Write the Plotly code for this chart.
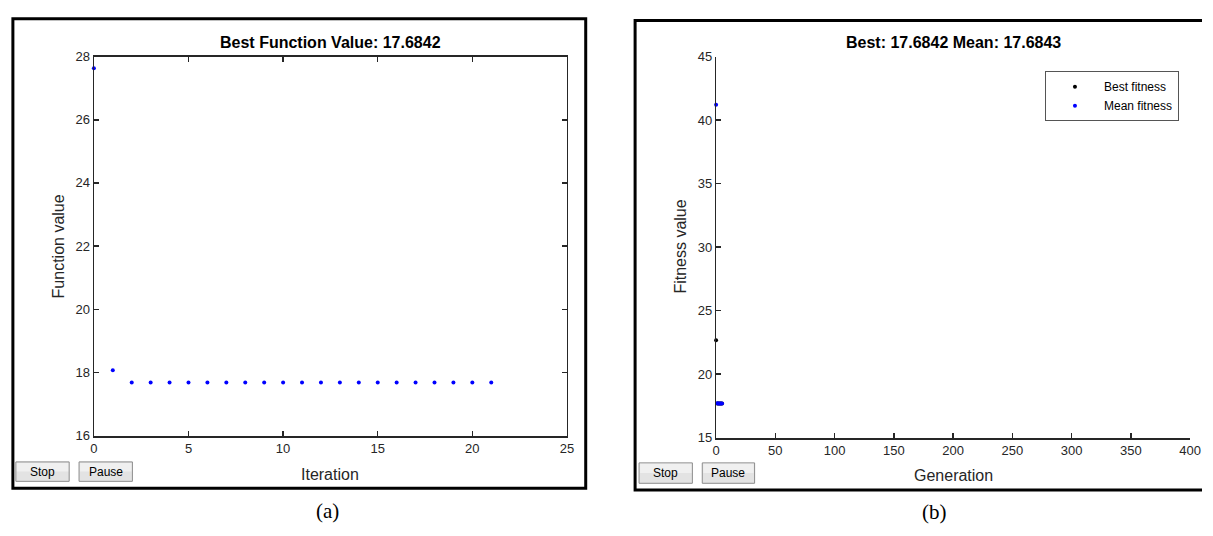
import plotly.graph_objects as go

W, H = 1213, 536

# ---------------- data ----------------
iterations = [0, 1, 2, 3, 4, 5, 6, 7, 8, 9, 10, 11, 12, 13, 14, 15, 16, 17, 18, 19, 20, 21]
best_function_values = [27.63, 18.07, 17.6842, 17.6842, 17.6842, 17.6842, 17.6842, 17.6842,
                        17.6842, 17.6842, 17.6842, 17.6842, 17.6842, 17.6842, 17.6842, 17.6842,
                        17.6842, 17.6842, 17.6842, 17.6842, 17.6842, 17.6842]

generations = [0, 1, 2, 3, 4, 5]
best_fitness = [22.66, 17.6842, 17.6842, 17.6842, 17.6842, 17.6842]
mean_fitness = [41.2, 17.71, 17.69, 17.686, 17.6845, 17.6843]

left_title = "Best Function Value: 17.6842"
right_title = "Best: 17.6842 Mean: 17.6843"
left_xticks = [0, 5, 10, 15, 20, 25]
left_yticks = [16, 18, 20, 22, 24, 26, 28]
right_xticks = [0, 50, 100, 150, 200, 250, 300, 350, 400]
right_yticks = [15, 20, 25, 30, 35, 40, 45]


def px(x):
    return x / W


def py(y):
    return 1 - y / H


FONT = "Liberation Sans, Arial, Helvetica, sans-serif"
SERIF = "Liberation Serif, Times New Roman, serif"
TXT = "#262626"

fig = go.Figure()

fig.add_trace(go.Scatter(x=iterations, y=best_function_values, mode="markers",
                         marker=dict(color="#0000ff", size=4), showlegend=False,
                         xaxis="x", yaxis="y", cliponaxis=False))
fig.add_trace(go.Scatter(x=generations, y=best_fitness, mode="markers", name="Best fitness",
                         marker=dict(color="black", size=4), xaxis="x2", yaxis="y2", cliponaxis=False))
fig.add_trace(go.Scatter(x=generations, y=mean_fitness, mode="markers", name="Mean fitness",
                         marker=dict(color="#0000ff", size=4), xaxis="x2", yaxis="y2", cliponaxis=False))

common_axis = dict(showgrid=False, zeroline=False, showline=True, linecolor=TXT,
                   ticks="inside", ticklen=5, tickwidth=1.5, tickcolor=TXT,
                   tickfont=dict(family=FONT, size=13, color=TXT))

fig.update_layout(
    width=W, height=H, margin=dict(l=0, r=0, t=0, b=0),
    paper_bgcolor="white", plot_bgcolor="white",
    font=dict(family=FONT, color=TXT),
    xaxis=dict(domain=[px(91), px(570)], range=[0, 25], tickvals=left_xticks,
               mirror="ticks", linewidth=2, anchor="y", **common_axis),
    yaxis=dict(domain=[py(441), py(51)], range=[16, 28], tickvals=left_yticks,
               mirror="ticks", linewidth=1.2, anchor="x", **common_axis),
    xaxis2=dict(domain=[px(721), px(1201)], range=[0, 400], tickvals=right_xticks,
                mirror=False, linewidth=2, anchor="y2", **common_axis),
    yaxis2=dict(domain=[py(443), py(51)], range=[15, 45], tickvals=right_yticks,
                mirror=False, linewidth=1.2, anchor="x2", **common_axis),
    legend=dict(x=px(1054), y=py(66), xanchor="left", yanchor="top",
                bordercolor="#555555", borderwidth=1, bgcolor="white",
                font=dict(family=FONT, size=12, color="black"), itemwidth=48,
                tracegroupgap=0),
)

shapes = []
frame_line = dict(color="black", width=3)
# figure-window frames
shapes.append(dict(type="rect", xref="paper", yref="paper", x0=px(9), x1=px(589),
                   y0=py(495), y1=py(12), line=frame_line, layer="below"))
# right window runs off the right edge: draw top, left and bottom sides only
shapes.append(dict(type="path", xref="paper", yref="paper",
                   path=f"M 1,{py(14)} L {px(639)},{py(14)} L {px(639)},{py(497)} L 1,{py(497)}",
                   line=frame_line, layer="below"))

annotations = []


def label(text, x, y, size, family=FONT, color=TXT, angle=0, yanchor="middle"):
    annotations.append(dict(text=text, x=px(x), y=py(y), xref="paper", yref="paper",
                            xanchor="center", yanchor=yanchor, textangle=angle,
                            showarrow=False, font=dict(family=family, size=size, color=color)))


# buttons
buttons = [("Stop", 12, 66, 468, 488), ("Pause", 76, 130, 468, 488),
           ("Stop", 643, 697, 469, 490), ("Pause", 707, 760, 469, 490)]
for text, x0, x1, y0, y1 in buttons:
    shapes.append(dict(type="rect", xref="paper", yref="paper", x0=px(x0), x1=px(x1),
                       y0=py(y1), y1=py(y0), line=dict(color="#8c8c8c", width=1),
                       fillcolor="#e3e3e3"))
    shapes.append(dict(type="rect", xref="paper", yref="paper", x0=px(x0 + 1), x1=px(x1 - 1),
                       y0=py((y0 + y1) / 2), y1=py(y0 + 1), line=dict(width=0),
                       fillcolor="#f0f0f0"))
    label(text, (x0 + x1) / 2, (y0 + y1) / 2, 12, color="black")

# titles
label("<b>" + left_title + "</b>", 330.5, 37, 16, color="black")
label("<b>" + right_title + "</b>", 961, 37, 16, color="black")
# axis labels
label("Iteration", 330, 481, 16)
label("Generation", 961, 482, 16)
label("Function value", 55, 246, 16, angle=-90)
label("Fitness value", 685, 247, 16, angle=-90)
# captions (kept fully inside the page)
label("(a)", 328, 533, 21, family=SERIF, color="black", yanchor="bottom")
label("(b)", 942, 534, 21, family=SERIF, color="black", yanchor="bottom")

fig.update_layout(shapes=shapes, annotations=annotations)

fig.write_html("out.html", config={"displayModeBar": False, "staticPlot": True},
               post_script="document.body.style.margin='0';document.body.style.overflow='hidden';")
